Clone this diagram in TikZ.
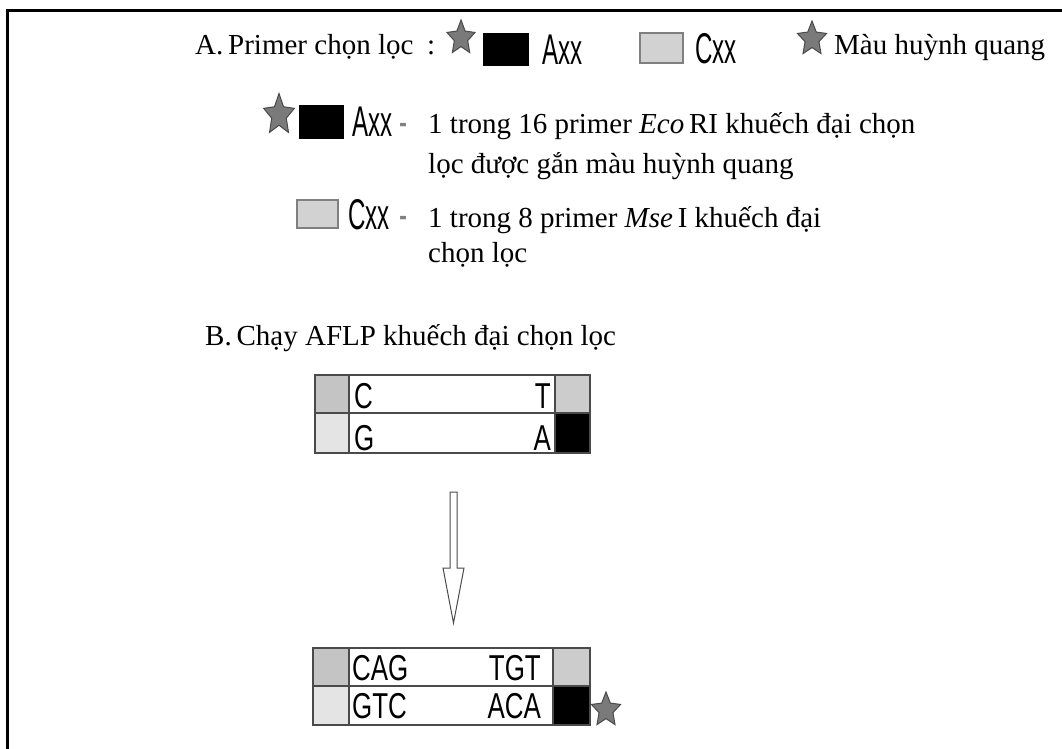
\documentclass[tikz,border=0pt]{standalone}
\usepackage{fontspec}
\setmainfont{Liberation Serif}
\newfontfamily\narrowA[FakeStretch=0.56]{Liberation Sans}
\newfontfamily\narrowB[FakeStretch=0.72]{Liberation Sans}
\usetikzlibrary{shapes.geometric}
\definecolor{stargray}{HTML}{7A7A7A}
\definecolor{stardark}{HTML}{4A4A4A}
\definecolor{boxline}{HTML}{4A4A4A}
\definecolor{cellA}{HTML}{C4C4C4}
\definecolor{cellB}{HTML}{E4E4E4}
\definecolor{cellC}{HTML}{CCCCCC}
\definecolor{legendgray}{HTML}{D2D2D2}
\tikzset{
  serif/.style={inner sep=0, font=\fontsize{29}{40}\selectfont},
  lab/.style={inner sep=0, font=\narrowA\fontsize{43}{43}\selectfont},
  base/.style={inner sep=0, font=\narrowB\fontsize{36}{36}\selectfont},
  fstar/.style={star, star points=5, star point ratio=2.1, fill=stargray, draw=stardark, line width=1pt, inner sep=0, minimum size=#1, transform shape},
  blk/.style={fill=black, draw=black},
  lgray/.style={fill=legendgray, draw=gray, line width=1.5pt},
  cell/.style={draw=boxline, line width=1.6pt},
}
\begin{document}
\begin{tikzpicture}[x=1pt,y=-1pt]
\useasboundingbox (0,0) rectangle (1062,749);
\fill[white] (0,0) rectangle (1062,749);
% frame
\draw[line width=3pt] (1062,10.5) -- (7.5,10.5) -- (7.5,749);

% ---- A legend row ----
\node[serif, anchor=base west] (atitle) at (195,55) {A.\,Primer chọn lọc};
\node[serif, anchor=base west] (colon) at (427,55) {:};
\begin{scope}[shift={(461,38)}, xscale=0.82]
  \node[fstar=36pt] (s1) at (0,0) {};
\end{scope}
\draw[blk] (483,33) rectangle (528,65);
\node[lab, anchor=base west] (a1) at (542,65) {Axx};
\draw[lgray] (640,33) rectangle (683,63);
\node[lab, anchor=base west] (c1) at (695,64) {Cxx};
\begin{scope}[shift={(812,39)}, xscale=0.85]
  \node[fstar=36pt] (s2) at (0,0) {};
\end{scope}
\node[serif, anchor=base west] (mhq) at (834,55) {Màu huỳnh quang};

% ---- Axx row ----
\begin{scope}[shift={(279,115)}, xscale=0.75]
  \node[fstar=43pt] (s3) at (0,0) {};
\end{scope}
\draw[blk] (299,105) rectangle (343,138);
\node[lab, anchor=base west] (a2) at (352,136) {Axx};
\node[lab, anchor=base west, text=gray] (d1) at (399,136) {-};
\node[serif, anchor=base west, align=left] (t1) at (428,173) {1 trong 16 primer \textit{Eco}\,RI khuếch đại chọn\\lọc được gắn màu huỳnh quang};

% ---- Cxx row ----
\draw[lgray] (297,200) rectangle (338,228);
\node[lab, anchor=base west] (c2) at (348,229) {Cxx};
\node[lab, anchor=base west, text=gray] (d2) at (399,229) {-};
\node[serif, anchor=base west, align=left, font=\fontsize{29}{35}\selectfont] (t2) at (428,262) {1 trong 8 primer \textit{Mse}\,I khuếch đại\\chọn lọc};

% ---- B ----
\node[serif, anchor=base west] (btitle) at (205,345) {B.\,Chạy AFLP khuếch đại chọn lọc};

% box 1
\fill[cellA] (315,375) rectangle (349,413);
\fill[cellB] (315,413) rectangle (349,453);
\fill[cellC] (555,375) rectangle (590,413);
\fill[black] (555,413) rectangle (590,453);
\draw[cell] (315,375) rectangle (590,453);
\draw[cell] (315,413) -- (590,413);
\draw[cell] (349,375) -- (349,453);
\draw[cell] (555,375) -- (555,453);
\node[base, anchor=base west] (b1c) at (354,408) {C};
\node[base, anchor=base east] (b1t) at (551,408) {T};
\node[base, anchor=base west] (b1g) at (354,450) {G};
\node[base, anchor=base east] (b1a) at (551,450) {A};

% hollow arrow
\draw[boxline, line width=1pt, fill=white] (450,492) -- (457,492) -- (457,568) -- (464,568) -- (453.5,623) -- (443,568) -- (450,568) -- cycle;

% box 2
\fill[cellA] (313,648) rectangle (349,686);
\fill[cellB] (313,686) rectangle (349,725);
\fill[cellC] (553,648) rectangle (590,686);
\fill[black] (553,686) rectangle (590,725);
\draw[cell] (313,648) rectangle (590,725);
\draw[cell] (313,686) -- (590,686);
\draw[cell] (349,648) -- (349,725);
\draw[cell] (553,648) -- (553,725);
\node[base, anchor=base west] (b2cag) at (352,680) {CAG};
\node[base, anchor=base east] (b2tgt) at (541,680) {TGT};
\node[base, anchor=base west] (b2gtc) at (352,718) {GTC};
\node[base, anchor=base east] (b2aca) at (541,718) {ACA};
\begin{scope}[shift={(606,710)}, xscale=0.85]
  \node[fstar=36pt] (s4) at (0,0) {};
\end{scope}
\end{tikzpicture}
\end{document}
